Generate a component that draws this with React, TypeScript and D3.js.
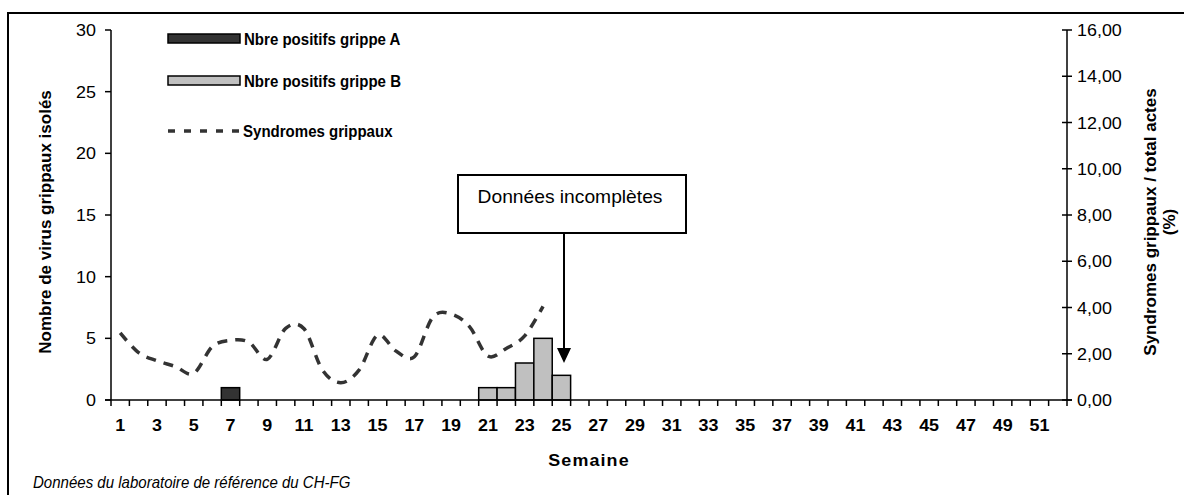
import React from "react";
import * as d3 from "d3";

const weeks: number[] = Array.from({ length: 52 }, (_, i) => i + 1);
const grippeA: { week: number; value: number }[] = [{ week: 7, value: 1 }];
const grippeB: { week: number; value: number }[] = [
  { week: 21, value: 1 },
  { week: 22, value: 1 },
  { week: 23, value: 3 },
  { week: 24, value: 5 },
  { week: 25, value: 2 },
];
const syndromes: number[] = [
  2.9, 2.05, 1.7, 1.45, 1.15, 2.3, 2.58, 2.5, 1.76, 3.1, 3.08, 1.3, 0.75, 1.3,
  2.8, 2.12, 1.87, 3.58, 3.72, 3.17, 1.9, 2.23, 2.77, 4.05,
];
const leftTicks = [0, 5, 10, 15, 20, 25, 30];
const rightTicks = [0, 2, 4, 6, 8, 10, 12, 14, 16];

const FONT = "'Liberation Sans', Arial, Helvetica, sans-serif";

export default function App() {
  const x0 = 111;
  const x1 = 1067;
  const yBase = 400;
  const yTop = 30;
  const xBand = d3.scaleBand<number>().domain(weeks).range([x0, x1]).padding(0);
  const yL = d3.scaleLinear().domain([0, 30]).range([yBase, yTop]);
  const yR = d3.scaleLinear().domain([0, 16]).range([yBase, yTop]);
  const cx = (w: number) => (xBand(w) as number) + xBand.bandwidth() / 2;

  const line = d3
    .line<number>()
    .x((_, i) => cx(i + 1))
    .y((d) => yR(d))
    .curve(d3.curveCatmullRom.alpha(0));
  const fmt = (v: number) => v.toFixed(2).replace(".", ",");

  const boundaries = weeks.map((w) => xBand(w) as number).concat([x1]);
  const sx = 1.12;
  const lsx = 0.94;

  return (
    <svg
      width={1184}
      height={495}
      style={{ position: "absolute", left: 0, top: 0, background: "#fff" }}
      fontFamily={FONT}
    >
      <rect x={8} y={13} width={1200} height={520} fill="#fff" stroke="#000" strokeWidth={2} />

      {/* bars */}
      {grippeA.map((d) => (
        <rect
          key={"a" + d.week}
          x={xBand(d.week)}
          y={yL(d.value)}
          width={xBand.bandwidth()}
          height={yBase - yL(d.value)}
          fill="#333333"
          stroke="#000"
          strokeWidth={1.5}
        />
      ))}
      {grippeB.map((d) => (
        <rect
          key={"b" + d.week}
          x={xBand(d.week)}
          y={yL(d.value)}
          width={xBand.bandwidth()}
          height={yBase - yL(d.value)}
          fill="#c0c0c0"
          stroke="#000"
          strokeWidth={1.5}
        />
      ))}

      {/* line */}
      <path
        d={line(syndromes) || ""}
        fill="none"
        stroke="#333333"
        strokeWidth={3.5}
        strokeDasharray="10 8"
      />

      {/* axes */}
      <line x1={x0} x2={x0} y1={yTop} y2={yBase} stroke="#000" strokeWidth={1.5} />
      <line x1={x1} x2={x1} y1={yTop} y2={yBase} stroke="#000" strokeWidth={1.5} />
      <line x1={x0 - 6} x2={x1 + 5} y1={yBase} y2={yBase} stroke="#000" strokeWidth={1.5} />
      {boundaries.map((b, i) => (
        <line key={"bt" + i} x1={b} x2={b} y1={yBase} y2={yBase + 6} stroke="#000" strokeWidth={1.5} />
      ))}
      {leftTicks.map((t) => (
        <g key={"lt" + t}>
          <line x1={x0 - 6} x2={x0} y1={yL(t)} y2={yL(t)} stroke="#000" strokeWidth={1.5} />
          <text
            transform={`translate(96,${yL(t) + 6}) scale(${sx},1)`}
            textAnchor="end"
            fontSize={16}
          >
            {t}
          </text>
        </g>
      ))}
      {rightTicks.map((t) => (
        <g key={"rt" + t}>
          <line x1={x1 - 5} x2={x1 + 5} y1={yR(t)} y2={yR(t)} stroke="#000" strokeWidth={1.5} />
          <text
            transform={`translate(1077,${yR(t) + 6}) scale(${sx},1)`}
            textAnchor="start"
            fontSize={16}
          >
            {fmt(t)}
          </text>
        </g>
      ))}
      {weeks
        .filter((w) => w % 2 === 1)
        .map((w) => (
          <text
            key={"xl" + w}
            transform={`translate(${cx(w)},431) scale(${sx},1)`}
            textAnchor="middle"
            fontSize={16}
            fontWeight="bold"
          >
            {w}
          </text>
        ))}

      {/* axis titles */}
      <text
        transform={`translate(589,466) scale(${sx},1)`}
        textAnchor="middle"
        fontSize={16}
        fontWeight="bold"
        letterSpacing={1}
      >
        Semaine
      </text>
      <text
        transform="translate(51,222) rotate(-90)"
        textAnchor="middle"
        fontSize={17}
        fontWeight="bold"
      >
        Nombre de virus grippaux isolés
      </text>
      <text
        transform="translate(1156,222) rotate(-90)"
        textAnchor="middle"
        fontSize={17}
        fontWeight="bold"
      >
        Syndromes grippaux / total actes
      </text>
      <text
        transform="translate(1175,222) rotate(-90)"
        textAnchor="middle"
        fontSize={17}
        fontWeight="bold"
      >
        (%)
      </text>
      <text transform={`translate(33,488) scale(${lsx},1)`} fontSize={16} fontStyle="italic">
        Données du laboratoire de référence du CH-FG
      </text>

      {/* legend */}
      <rect x={168} y={34} width={72} height={9} fill="#333333" stroke="#000" strokeWidth={1.5} />
      <text transform={`translate(244,45) scale(${lsx},1)`} fontSize={16} fontWeight="bold">
        Nbre positifs grippe A
      </text>
      <rect x={168} y={76} width={72} height={9} fill="#c0c0c0" stroke="#000" strokeWidth={1.5} />
      <text transform={`translate(244,87) scale(${lsx},1)`} fontSize={16} fontWeight="bold">
        Nbre positifs grippe B
      </text>
      <line x1={168} x2={240} y1={131} y2={131} stroke="#333333" strokeWidth={3.5} strokeDasharray="7 9" />
      <text transform={`translate(243,137) scale(${lsx},1)`} fontSize={16} fontWeight="bold">
        Syndromes grippaux
      </text>

      {/* annotation */}
      <rect x={458} y={175} width={228} height={58} fill="#fff" stroke="#000" strokeWidth={2} />
      <text transform={`translate(570,203) scale(1.04,1)`} textAnchor="middle" fontSize={18.5}>
        Données incomplètes
      </text>
      <line x1={564} x2={564} y1={233} y2={349} stroke="#000" strokeWidth={2} />
      <path d="M557,348 L571,348 L564,363 Z" fill="#000" />
    </svg>
  );
}
